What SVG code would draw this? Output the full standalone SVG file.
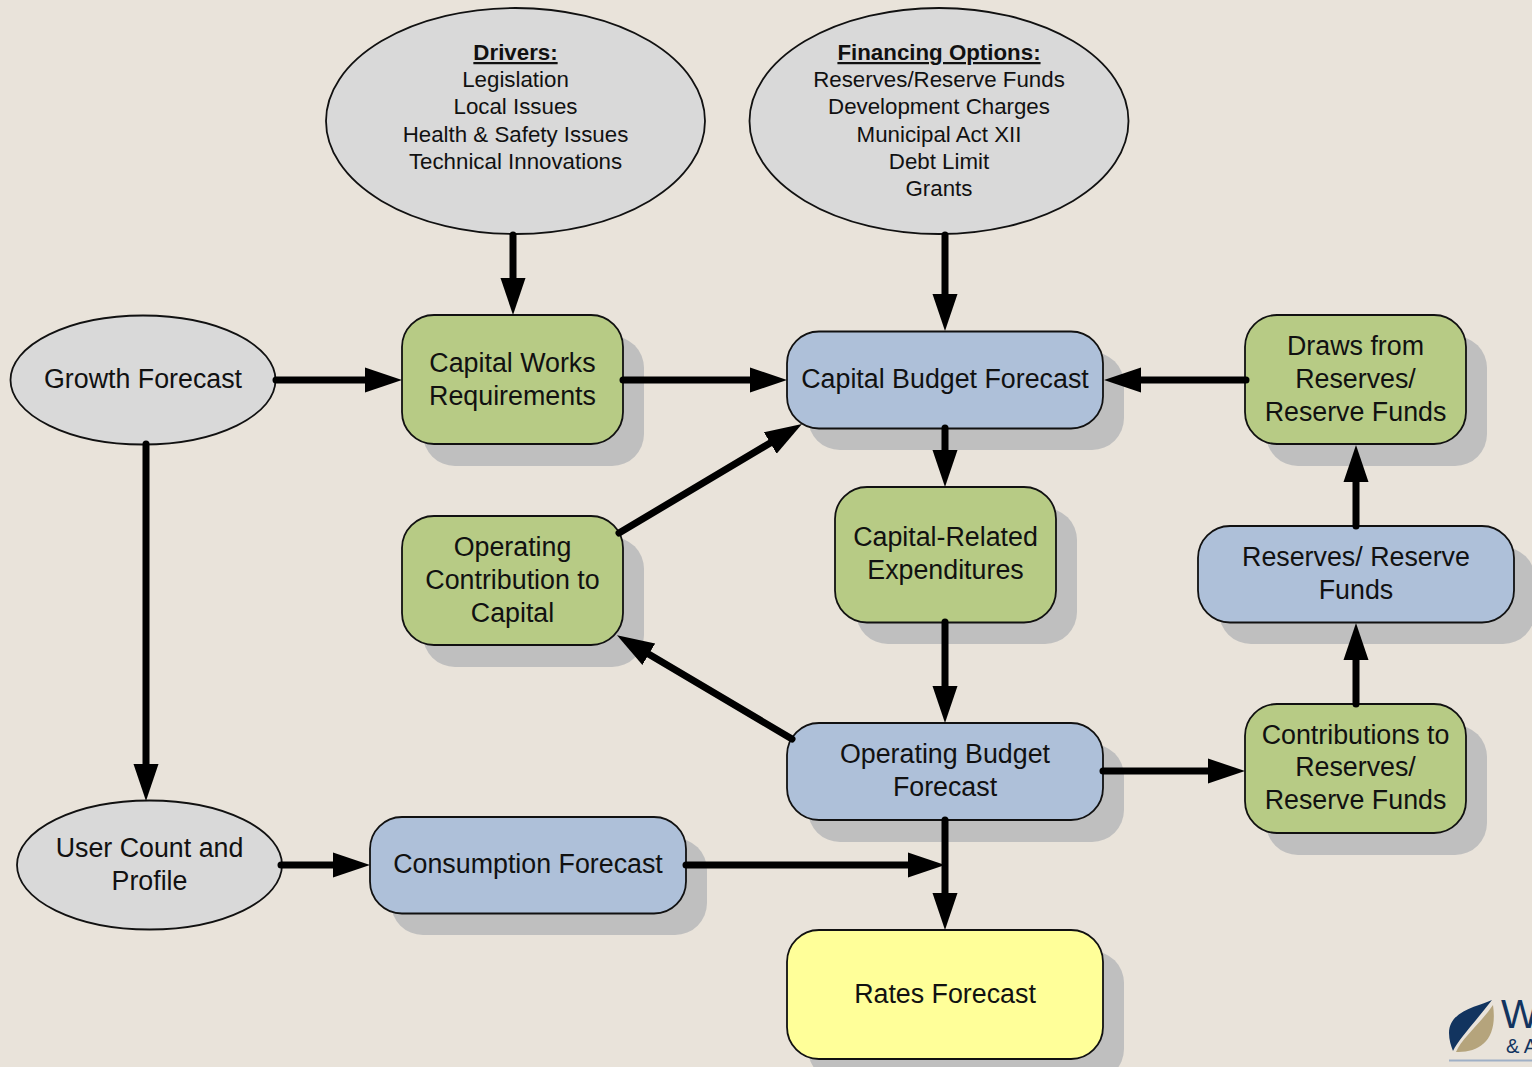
<svg xmlns="http://www.w3.org/2000/svg" width="1532" height="1067" viewBox="0 0 1532 1067">
<style>
text{font-family:"Liberation Sans",Arial,sans-serif;fill:#111;text-anchor:middle}
.l{font-size:26.800px}.s{font-size:22.300px}
.b{font-weight:bold;text-decoration:underline}
.n{stroke:#111;stroke-width:1.800}
.sh{fill:#bfbfbf}
.g{fill:#b7cb85}.bl{fill:#aec0d9}.y{fill:#ffff99}.e{fill:#d9d9d9}
.c{fill:none;stroke:#000;stroke-width:7;stroke-linecap:round;marker-end:url(#a)}
.w{fill:#12345f;text-anchor:start}
</style>
<defs>
<marker id="a" markerUnits="userSpaceOnUse" markerWidth="40" markerHeight="28" refX="20" refY="13" orient="auto"><path d="M0 .5L37 13L0 25.500z"/></marker>
</defs>
<rect width="1532" height="1067" fill="#e9e3da"/>
<g id="shadows" class="sh">
<rect x="423" y="336" width="221" height="130" rx="32"/>
<rect x="808" y="352" width="316" height="98" rx="32"/>
<rect x="1266" y="336" width="221" height="130" rx="32"/>
<rect x="423" y="537" width="221" height="130" rx="32"/>
<rect x="856" y="508" width="221" height="136" rx="32"/>
<rect x="1219" y="547" width="316" height="97" rx="32"/>
<rect x="1266" y="725" width="221" height="130" rx="32"/>
<rect x="808" y="744" width="316" height="98" rx="32"/>
<rect x="391" y="838" width="316" height="97" rx="32"/>
<rect x="808" y="951" width="316" height="130" rx="32"/>
</g>
<g id="logo">
<path d="M1492 1000C1480 1006 1449 1010 1449 1033C1449 1040 1451 1046 1453 1051C1458 1040 1475 1022 1492 1000Z" fill="#12345f"/>
<path d="M1493 1005C1480 1024 1462 1038 1456 1052C1480 1053 1498 1040 1493 1005Z" fill="#b5a47c"/>
<text class="w" x="1501" y="1028" font-size="40">W</text>
<text class="w" x="1506" y="1053" font-size="20">&amp; A</text>
<rect x="1449" y="1059.500" width="83" height="2" fill="#9fb0c6"/>
</g>
<g id="drivers"><ellipse class="n e" cx="515.500" cy="121" rx="189.500" ry="113"/>
<text class="s b" x="515.500" y="60">Drivers:</text><text class="s" x="515.500" y="87">Legislation</text><text class="s" x="515.500" y="114">Local Issues</text><text class="s" x="515.500" y="142">Health &amp; Safety Issues</text><text class="s" x="515.500" y="169">Technical Innovations</text></g>
<g id="financing"><ellipse class="n e" cx="939" cy="121" rx="189.500" ry="113"/>
<text class="s b" x="939" y="60">Financing Options:</text><text class="s" x="939" y="87">Reserves/Reserve Funds</text><text class="s" x="939" y="114">Development Charges</text><text class="s" x="939" y="142">Municipal Act XII</text><text class="s" x="939" y="169">Debt Limit</text><text class="s" x="939" y="196">Grants</text></g>
<g id="growth"><ellipse class="n e" cx="143" cy="380" rx="132.500" ry="64.500"/><text class="l" x="143" y="388">Growth Forecast</text></g>
<g id="user"><ellipse class="n e" cx="149.500" cy="865" rx="132.500" ry="64.500"/><text class="l" x="149.500" y="857">User Count and</text><text class="l" x="149.500" y="890">Profile</text></g>
<g id="capital-works"><rect class="n g" x="402" y="315" width="221" height="129" rx="32"/><text class="l" x="512.500" y="372">Capital Works</text><text class="l" x="512.500" y="405">Requirements</text></g>
<g id="capital-budget"><rect class="n bl" x="787" y="331.500" width="316" height="97" rx="32"/><text class="l" x="945" y="388">Capital Budget Forecast</text></g>
<g id="draws"><rect class="n g" x="1245" y="315" width="221" height="129" rx="32"/><text class="l" x="1355.500" y="355">Draws from</text><text class="l" x="1355.500" y="388">Reserves/</text><text class="l" x="1355.500" y="421">Reserve Funds</text></g>
<g id="operating-contribution"><rect class="n g" x="402" y="516" width="221" height="129" rx="32"/><text class="l" x="512.500" y="556">Operating</text><text class="l" x="512.500" y="589">Contribution to</text><text class="l" x="512.500" y="622">Capital</text></g>
<g id="capital-related"><rect class="n g" x="835" y="487" width="221" height="135.500" rx="32"/><text class="l" x="945.500" y="546">Capital-Related</text><text class="l" x="945.500" y="579">Expenditures</text></g>
<g id="reserves"><rect class="n bl" x="1198" y="526" width="316" height="96.500" rx="32"/><text class="l" x="1356" y="566">Reserves/ Reserve</text><text class="l" x="1356" y="599">Funds</text></g>
<g id="contributions"><rect class="n g" x="1245" y="704" width="221" height="129" rx="32"/><text class="l" x="1355.500" y="744">Contributions to</text><text class="l" x="1355.500" y="776">Reserves/</text><text class="l" x="1355.500" y="809">Reserve Funds</text></g>
<g id="operating-budget"><rect class="n bl" x="787" y="723" width="316" height="97" rx="32"/><text class="l" x="945" y="763">Operating Budget</text><text class="l" x="945" y="796">Forecast</text></g>
<g id="consumption"><rect class="n bl" x="370" y="817" width="316" height="96.500" rx="32"/><text class="l" x="528" y="873">Consumption Forecast</text></g>
<g id="rates"><rect class="n y" x="787" y="930" width="316" height="129" rx="32"/><text class="l" x="945" y="1003">Rates Forecast</text></g>
<g id="connectors">
<path class="c" d="M513 235V298"/>
<path class="c" d="M945 235V314"/>
<path class="c" d="M276 380H385"/>
<path class="c" d="M623 380H770"/>
<path class="c" d="M1246 380H1121"/>
<path class="c" d="M619 533L787.400 432.700"/>
<path class="c" d="M945 428V470"/>
<path class="c" d="M945 622V706"/>
<path class="c" d="M792 739L631.600 644"/>
<path class="c" d="M1103 771H1228"/>
<path class="c" d="M1356 704V640"/>
<path class="c" d="M1356 526V462"/>
<path class="c" d="M146 444V784"/>
<path class="c" d="M281 865H353"/>
<path class="c" d="M686 865H928"/>
<path class="c" d="M945 820V913"/>
</g>
</svg>
